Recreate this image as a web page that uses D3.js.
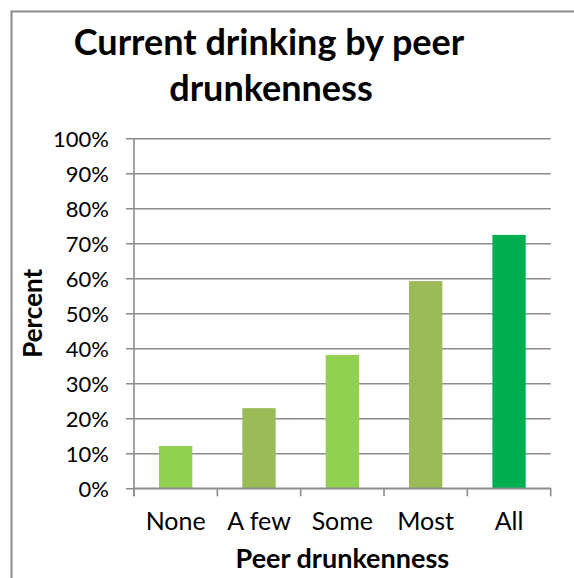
<!DOCTYPE html>
<html>
<head>
<meta charset="utf-8">
<script src="https://cdn.jsdelivr.net/npm/d3@7"></script>
<style>
  body { margin: 0; background: #fff; }
  svg { display: block; font-family: Lato, "Open Sans", sans-serif; }
</style>
</head>
<body>
<script>
// data
var categories = ["None", "A few", "Some", "Most", "All"];
var percents = [12.1, 22.9, 38.1, 59.2, 72.4];
var barColors = ["#92D050", "#9BBB59", "#92D050", "#9BBB59", "#00B050"];
var yTicks = [0, 10, 20, 30, 40, 50, 60, 70, 80, 90, 100];

var width = 574, height = 578;
var plotLeft = 134, plotRight = 550.7, plotTop = 138.3, plotBottom = 488.3;
var gridColor = "#8c8c8c";

var svg = d3.select("body").append("svg")
  .attr("width", width)
  .attr("height", height);

// outer chart border (right/bottom edge falls outside the window)
svg.append("rect")
  .attr("x", 11.5).attr("y", 11.5)
  .attr("width", 700).attr("height", 700)
  .attr("fill", "none")
  .attr("stroke", "#8c8c8c")
  .attr("stroke-width", 2);

var x = d3.scaleBand()
  .domain(categories)
  .range([plotLeft, plotRight])
  .paddingInner(0.6)
  .paddingOuter(0.3);

var y = d3.scaleLinear()
  .domain([0, 100])
  .range([plotBottom, plotTop]);

// gridlines + y axis labels
var yAxis = d3.axisLeft(y)
  .tickValues(yTicks)
  .tickSize(-(plotRight - plotLeft))
  .tickFormat(function(d) { return d + "%" });

var gy = svg.append("g")
  .attr("transform", "translate(" + plotLeft + ",0)")
  .call(yAxis);
gy.select(".domain").remove();
gy.selectAll(".tick line")
  .attr("x1", -8)
  .attr("stroke", gridColor)
  .attr("stroke-width", 1.6);
gy.selectAll(".tick text")
  .attr("x", -25)
  .attr("dy", "0.36em")
  .attr("fill", "#000")
  .style("font-family", "Lato, sans-serif")
  .style("font-size", "22px");

// y axis line
svg.append("line")
  .attr("x1", plotLeft).attr("x2", plotLeft)
  .attr("y1", plotTop).attr("y2", plotBottom + 8)
  .attr("stroke", gridColor)
  .attr("stroke-width", 1.6);

// bars
svg.append("g").selectAll("rect")
  .data(categories)
  .enter().append("rect")
  .attr("x", function(d) { return x(d) })
  .attr("width", x.bandwidth())
  .attr("y", function(d, i) { return y(percents[i]) })
  .attr("height", function(d, i) { return plotBottom - y(percents[i]) })
  .attr("fill", function(d, i) { return barColors[i] });

// x axis: line with ticks at band edges
svg.append("line")
  .attr("x1", plotLeft).attr("x2", plotRight)
  .attr("y1", plotBottom).attr("y2", plotBottom)
  .attr("stroke", gridColor)
  .attr("stroke-width", 1.6);

var step = (plotRight - plotLeft) / categories.length;
var edges = d3.range(categories.length + 1).map(function(i) { return plotLeft + i * step });
svg.append("g").selectAll("line")
  .data(edges)
  .enter().append("line")
  .attr("x1", function(d) { return d }).attr("x2", function(d) { return d })
  .attr("y1", plotBottom).attr("y2", plotBottom + 8)
  .attr("stroke", gridColor)
  .attr("stroke-width", 1.6);

svg.append("g").selectAll("text")
  .data(categories)
  .enter().append("text")
  .attr("x", function(d) { return x(d) + x.bandwidth() / 2 })
  .attr("y", 530)
  .attr("text-anchor", "middle")
  .style("font-size", "25px")
  .text(function(d) { return d });

// titles
var title = svg.append("text")
  .attr("text-anchor", "middle")
  .style("font-size", "36px")
  .style("font-weight", "bold");
title.append("tspan").attr("x", 269).attr("y", 55).text("Current drinking by peer");
title.append("tspan").attr("x", 271).attr("y", 101).text("drunkenness");

svg.append("text")
  .attr("x", (plotLeft + plotRight) / 2)
  .attr("y", 568)
  .attr("text-anchor", "middle")
  .style("font-size", "27px")
  .style("font-weight", "bold")
  .text("Peer drunkenness");

svg.append("text")
  .attr("transform", "translate(42," + ((plotTop + plotBottom) / 2) + ") rotate(-90)")
  .attr("text-anchor", "middle")
  .style("font-size", "26px")
  .style("font-weight", "bold")
  .text("Percent");
</script>
</body>
</html>
